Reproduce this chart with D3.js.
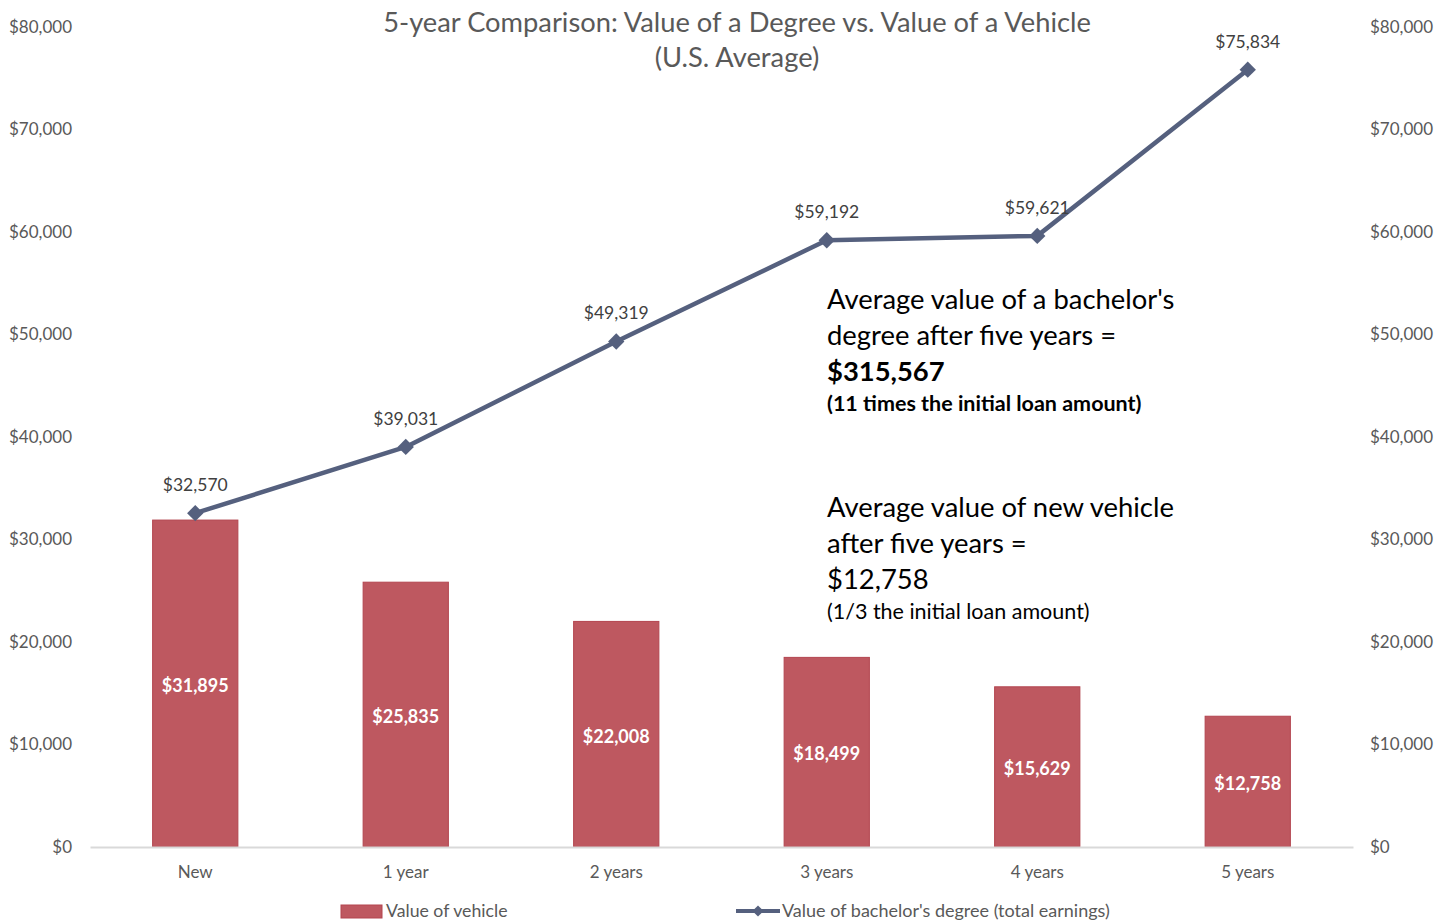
<!DOCTYPE html>
<html>
<head>
<meta charset="utf-8">
<script src="https://cdn.jsdelivr.net/npm/d3@7"></script>
<style>
  body { margin: 0; background: #fff; }
  svg text { font-family: Lato, "Open Sans", sans-serif; }
</style>
</head>
<body>
<div id="chart"></div>
<script>
// chart data
const categories = ["New", "1 year", "2 years", "3 years", "4 years", "5 years"];
const vehicleValues = [31895, 25835, 22008, 18499, 15629, 12758];
const degreeValues = [32570, 39031, 49319, 59192, 59621, 75834];
const yTicks = [0, 10000, 20000, 30000, 40000, 50000, 60000, 70000, 80000];
const titleLines = ["5-year Comparison: Value of a Degree vs. Value of a Vehicle", "(U.S. Average)"];
const legendLabels = ["Value of vehicle", "Value of bachelor's degree (total earnings)"];

const width = 1449, height = 921;
const margin_left = 90, margin_right = 96, margin_top = 27, margin_bottom = 74;
const barColor = "#be5860", barStroke = "#b3454f", lineColor = "#55607e";

const svg = d3.select("#chart").append("svg")
  .attr("width", width).attr("height", height);

const x_scale = d3.scaleBand()
  .domain(categories)
  .range([margin_left, width - margin_right])
  .paddingInner(0.595)
  .paddingOuter(0.2975);

const y_scale = d3.scaleLinear()
  .domain([0, 80000])
  .range([height - margin_bottom, margin_top]);

const money = d3.format("$,");

// left axis labels
svg.append("g")
  .attr("transform", "translate(72,0)")
  .call(d3.axisLeft(y_scale).tickValues(yTicks).tickFormat(money).tickSize(0).tickPadding(0))
  .call(g => g.select(".domain").remove())
  .selectAll("text")
  .style("font-size", "17px").style("fill", "#595959");

// right axis labels
svg.append("g")
  .attr("transform", "translate(1370,0)")
  .call(d3.axisRight(y_scale).tickValues(yTicks).tickFormat(money).tickSize(0).tickPadding(0))
  .call(g => g.select(".domain").remove())
  .selectAll("text")
  .style("font-size", "17px").style("fill", "#595959");

// bars
svg.selectAll(".bar")
  .data(vehicleValues)
  .enter()
  .append("rect")
  .attr("x", (d, i) => x_scale(categories[i]))
  .attr("y", d => y_scale(d))
  .attr("width", x_scale.bandwidth())
  .attr("height", d => y_scale(0) - y_scale(d))
  .style("fill", barColor)
  .attr("stroke", barStroke)
  .attr("stroke-width", 1);

// bar labels
svg.selectAll(".barLabel")
  .data(vehicleValues)
  .enter()
  .append("text")
  .attr("x", (d, i) => x_scale(categories[i]) + x_scale.bandwidth() / 2)
  .attr("y", d => (y_scale(d) + y_scale(0)) / 2 + 2)
  .attr("dy", "0.35em")
  .attr("text-anchor", "middle")
  .style("font-size", "18px").style("font-weight", "bold").style("fill", "#fff")
  .text(d => money(d));

// x axis
svg.append("g")
  .attr("transform", "translate(0," + y_scale(0) + ")")
  .call(d3.axisBottom(x_scale).tickSize(0).tickPadding(19))
  .call(g => g.select(".domain").attr("stroke", "#d9d9d9").attr("stroke-width", 2))
  .selectAll("text")
  .style("font-size", "17px").style("fill", "#595959");

// degree line
const cx = c => x_scale(c) + x_scale.bandwidth() / 2;
svg.append("path")
  .datum(degreeValues)
  .attr("d", d3.line().x((d, i) => cx(categories[i])).y(d => y_scale(d)))
  .attr("fill", "none")
  .attr("stroke", lineColor)
  .attr("stroke-width", 4.5)
  .attr("stroke-linejoin", "round");

svg.selectAll(".marker")
  .data(degreeValues)
  .enter()
  .append("path")
  .attr("d", d3.symbol().type(d3.symbolDiamond2).size(170))
  .attr("transform", (d, i) => "translate(" + cx(categories[i]) + "," + y_scale(d) + ")")
  .style("fill", lineColor);

svg.selectAll(".lineLabel")
  .data(degreeValues)
  .enter()
  .append("text")
  .attr("x", (d, i) => cx(categories[i]))
  .attr("y", d => y_scale(d) - 22)
  .attr("text-anchor", "middle")
  .style("font-size", "17.5px").style("fill", "#404040")
  .text(d => money(d));

// title
svg.append("text")
  .attr("x", 737).attr("y", 32)
  .attr("text-anchor", "middle")
  .style("font-size", "27.3px").style("fill", "#595959")
  .selectAll("tspan")
  .data(titleLines)
  .enter()
  .append("tspan")
  .attr("x", 737)
  .attr("dy", (d, i) => i ? 35 : 0)
  .text(d => d);

// annotations
const note1 = svg.append("text").attr("x", 827).style("fill", "#000");
note1.append("tspan").attr("x", 827).attr("y", 309).style("font-size", "27.4px").text("Average value of a bachelor's");
note1.append("tspan").attr("x", 827).attr("y", 345).style("font-size", "27.4px").text("degree after five years =");
note1.append("tspan").attr("x", 827).attr("y", 381).style("font-size", "27.4px").style("font-weight", "bold").text("$315,567");
note1.append("tspan").attr("x", 827).attr("y", 411).style("font-size", "21.5px").style("font-weight", "bold").text("(11 times the initial loan amount)");

const note2 = svg.append("text").attr("x", 827).style("fill", "#000");
note2.append("tspan").attr("x", 827).attr("y", 517).style("font-size", "27.4px").text("Average value of new vehicle");
note2.append("tspan").attr("x", 827).attr("y", 553).style("font-size", "27.4px").text("after five years =");
note2.append("tspan").attr("x", 827).attr("y", 589).style("font-size", "27.4px").text("$12,758");
note2.append("tspan").attr("x", 827).attr("y", 619).style("font-size", "21.5px").text("(1/3 the initial loan amount)");

// legend
const legend = svg.append("g");
legend.append("rect")
  .attr("x", 341).attr("y", 905).attr("width", 41).attr("height", 13)
  .style("fill", barColor).attr("stroke", barStroke);
legend.append("text")
  .attr("x", 386).attr("y", 917)
  .style("font-size", "17.7px").style("fill", "#595959")
  .text(legendLabels[0]);
legend.append("line")
  .attr("x1", 736).attr("x2", 780).attr("y1", 911).attr("y2", 911)
  .attr("stroke", lineColor).attr("stroke-width", 4);
legend.append("path")
  .attr("d", d3.symbol().type(d3.symbolDiamond2).size(80))
  .attr("transform", "translate(758,911)")
  .style("fill", lineColor);
legend.append("text")
  .attr("x", 782).attr("y", 917)
  .style("font-size", "18px").style("fill", "#595959")
  .text(legendLabels[1]);
</script>
</body>
</html>
